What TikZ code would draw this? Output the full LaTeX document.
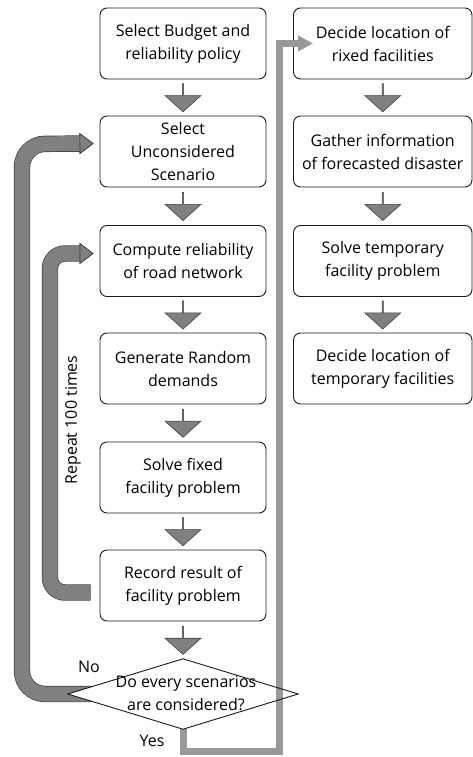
\documentclass[tikz,border=0pt]{standalone}
\usepackage{fontspec}
\setmainfont{Open Sans}
\usetikzlibrary{shapes.geometric,shapes.arrows,arrows.meta,calc,backgrounds}

\definecolor{boxline}{HTML}{1A1A1A}
\definecolor{flowgray}{HTML}{808080}
\definecolor{flowedge}{HTML}{404040}
\definecolor{yesgray}{HTML}{999999}

\begin{document}
\begin{tikzpicture}[
        x=1pt, y=-1pt,
        flow box/.style={
            draw=boxline,
            line width=0.9pt,
            rounded corners=7pt,
            fill=white,
            align=center,
            minimum width=166pt,
            minimum height=71pt,
            inner sep=0pt,
            font=\fontsize{16}{23}\selectfont
        },
        side box/.style={flow box, minimum width=178.5pt},
        flow arrow/.style={
            single arrow,
            shape border rotate=270,
            draw=flowedge,
            fill=flowgray,
            line width=0.6pt,
            inner sep=0pt,
            minimum height=28pt,
            minimum width=36pt,
            single arrow head extend=8.5pt,
            single arrow tip angle=96
        },
        decision/.style={
            diamond,
            fill=white,
            inner sep=0pt,
            minimum width=230pt,
            minimum height=70pt
        },
        decision edge/.style={draw=boxline, line width=0.9pt, line join=miter},
        loop arrow/.style={
            draw=flowgray,
            line width=15pt,
            preaction={draw=flowedge, line width=16.4pt},
            -{Triangle[length=14pt, width=21pt, line width=0.7pt, color=flowedge, fill=flowgray]}
        },
        yes line/.style={
            draw=yesgray,
            line width=7pt,
            -{Triangle[length=15pt, width=15pt]}
        },
        flow label/.style={font=\fontsize{16}{23}\selectfont}
    ]
        \useasboundingbox (0,0) rectangle (473,757);

        % left column
        \node[flow box] (budget) at (183,43.5)
            {Select Budget and\\reliability policy};
        \node[flow box] (scenario) at (183,151.5)
            {Select\\Unconsidered\\Scenario};
        \node[flow box] (reliability) at (183,261)
            {Compute reliability\\of road network};
        \node[flow box] (demands) at (183,368.5)
            {Generate Random\\demands};
        \node[flow box] (fixed) at (183,477.5)
            {Solve fixed\\facility problem};
        \node[flow box] (record) at (183,585.5)
            {Record result of\\facility problem};
        \node[decision] (check) at (183,694) {};

        % right column
        \node[side box] (rixed) at (382.75,43.5)
            {Decide location of\\rixed facilities};
        \node[side box] (gather) at (382.75,151.5)
            {Gather information\\of forecasted disaster};
        \node[side box] (temporary) at (382.75,261)
            {Solve temporary\\facility problem};
        \node[side box] (location) at (382.75,368.5)
            {Decide location of\\temporary facilities};

        % block arrows
        \node[flow arrow] (arrow a) at ($(budget.south)!0.5!(scenario.north)$) {};
        \node[flow arrow] (arrow b) at ($(scenario.south)!0.5!(reliability.north)$) {};
        \node[flow arrow] (arrow c) at ($(reliability.south)!0.5!(demands.north)$) {};
        \node[flow arrow] (arrow d) at ($(demands.south)!0.5!(fixed.north)$) {};
        \node[flow arrow] (arrow e) at ($(fixed.south)!0.5!(record.north)$) {};
        \node[flow arrow] (arrow f) at ($(record.south)!0.5!(check.north)$) {};
        \node[flow arrow] (arrow g) at ($(rixed.south)!0.5!(gather.north)$) {};
        \node[flow arrow] (arrow h) at ($(gather.south)!0.5!(temporary.north)$) {};
        \node[flow arrow] (arrow i) at ($(temporary.south)!0.5!(location.north)$) {};

        % labels
        \node[flow label, rotate=90] (repeat) at (73,420) {Repeat 100 times};
        \node[flow label] (no) at (89,667) {No};
        \node[flow label] (yes) at (152,741) {Yes};

        % loops
        \begin{pgfonlayer}{background}
            \draw[loop arrow, rounded corners=23pt]
                ($(check.west)+(24,0)$) -| (22,144) -- ($(scenario.west)+(-6,-8)$);
            \draw[loop arrow, rounded corners=15pt]
                ($(record.west)+(-9,7)$) -| (50,253.5) -- ($(reliability.west)+(-6,-7.5)$);
        \end{pgfonlayer}

        \coordinate (yes corner) at (279.5,751.5);
        \draw[yes line] (check.south) |- (yes corner) |- ($(rixed.west)+(20,0)$);

        % diamond outline over the yes line
        \draw[decision edge] (check.north) -- (check.east) -- (check.south)
            -- (check.west) -- cycle;
        \node[flow label, align=center] (check text) at ($(check)+(3,-0.5)$)
            {Do every scenarios\\are considered?};
    \end{tikzpicture}
\end{document}
